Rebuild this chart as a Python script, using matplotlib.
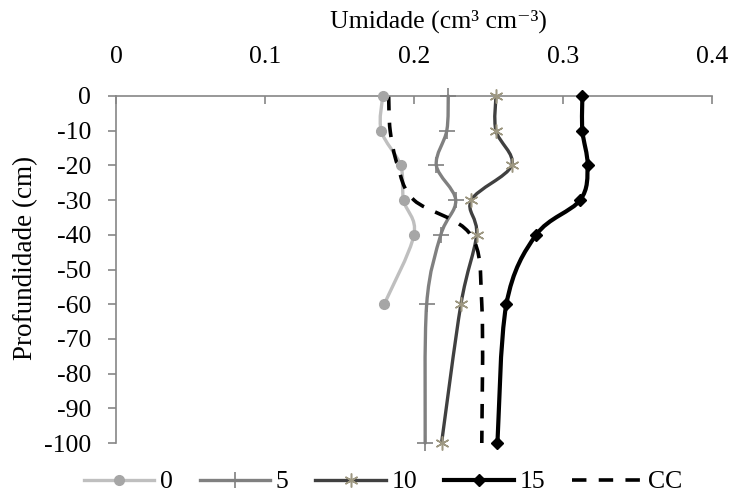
import numpy as np
import matplotlib.pyplot as plt
from matplotlib.path import Path
from matplotlib.patches import PathPatch
from matplotlib.lines import Line2D

plt.rcParams['font.family'] = ['Liberation Serif', 'DejaVu Serif']
plt.rcParams['axes.unicode_minus'] = False

# profundidade (cm)
prof = [0, -10, -20, -30, -40, -60, -100]
prof_0 = [0, -10, -20, -30, -40, -60]

# umidade (cm3 cm-3)
u0 = [0.179, 0.178, 0.191, 0.193, 0.200, 0.180]
u5 = [0.223, 0.222, 0.215, 0.228, 0.218, 0.2085, 0.2075]
u10 = [0.255, 0.255, 0.2655, 0.2385, 0.242, 0.2315, 0.2185]
u15 = [0.313, 0.313, 0.3165, 0.3115, 0.282, 0.262, 0.256]
cc = [0.183, 0.184, 0.189, 0.200, 0.238, 0.2455, 0.2455]


def smooth_path(x, y):
    # bezier tipo "linha suavizada" do Excel
    p = np.column_stack([x, y])
    n = len(p)
    verts = [p[0]]
    codes = [Path.MOVETO]
    for i in range(n - 1):
        p0 = p[max(i - 1, 0)]
        p1 = p[i]
        p2 = p[i + 1]
        p3 = p[min(i + 2, n - 1)]
        verts += [p1 + (p2 - p0) / 6, p2 - (p3 - p1) / 6, p2]
        codes += [Path.CURVE4] * 3
    return Path(verts, codes)


fig = plt.figure(figsize=(7.31, 4.93), dpi=100)
ax = fig.add_axes([116 / 731, 1 - 443 / 493, 596 / 731, 347 / 493])

series = [
    (u0, prof_0, dict(color='#bfbfbf', lw=2.4), dict(marker='o', ms=7, color='#a6a6a6', mec='#a6a6a6'), '0'),
    (u5, prof, dict(color='#808080', lw=2.4), dict(marker='+', ms=11, color='#7f7f7f', mew=1.2), '5'),
    (u10, prof, dict(color='#404040', lw=2.4), dict(marker=(6, 2, 0), ms=10, color='#9e9882', mew=1.1), '10'),
    (u15, prof, dict(color='black', lw=3.0), dict(marker='D', ms=6.5, color='black'), '15'),
]

handles = []
for x, y, lkw, mkw, lab in series:
    ax.add_patch(PathPatch(smooth_path(x, y), fill=False, ec=lkw['color'], lw=lkw['lw'],
                           capstyle='round', joinstyle='round', zorder=2, clip_on=False))
    ax.plot(x, y, ls='none', zorder=3, clip_on=False, **mkw)
    handles.append(Line2D([], [], color=lkw['color'], lw=lkw['lw'],
                          marker=mkw['marker'], ms=mkw['ms'], mfc=mkw['color'],
                          mec=mkw.get('mec', mkw['color']), mew=mkw.get('mew', 1), label=lab))

ax.add_patch(PathPatch(smooth_path(cc, prof), fill=False, ec='black', lw=2.6,
                       linestyle=(0, (4, 3.4)), capstyle='butt', zorder=2, clip_on=False))
handles.append(Line2D([], [], color='black', lw=2.6, linestyle=(0, (4, 3.4)), label='CC'))

ax.set_xlim(0, 0.4)
ax.set_ylim(-100, 0)
ax.set_xticks([0, 0.1, 0.2, 0.3, 0.4])
ax.set_xticklabels(['0', '0.1', '0.2', '0.3', '0.4'])
ax.set_yticks(range(-100, 1, 10))
ax.xaxis.tick_top()

for s in ['right', 'bottom']:
    ax.spines[s].set_visible(False)
for s in ['left', 'top']:
    ax.spines[s].set_color('#868686')
    ax.spines[s].set_linewidth(1.2)

ax.tick_params(axis='x', direction='in', length=6, width=1.2, color='#868686',
               labelsize=18.5, pad=20)
ax.tick_params(axis='y', direction='out', length=6, width=1.2, color='#868686',
               labelsize=18.5, pad=12)

fig.text(438 / 731, 1 - 21 / 493, 'Umidade (cm³ cm⁻³)', ha='center', va='center', fontsize=18.5)
fig.text(26 / 731, 1 - 258 / 493, 'Profundidade (cm)', ha='center', va='center',
         rotation=90, fontsize=19.5)

fig.legend(handles=handles, loc='center', bbox_to_anchor=(383.5 / 731, 1 - 482 / 493),
           ncol=5, frameon=False, fontsize=18.5, handlelength=2.73, handletextpad=0.23,
           columnspacing=1.04, borderpad=0, borderaxespad=0)

fig.savefig('out.png', dpi=100)
